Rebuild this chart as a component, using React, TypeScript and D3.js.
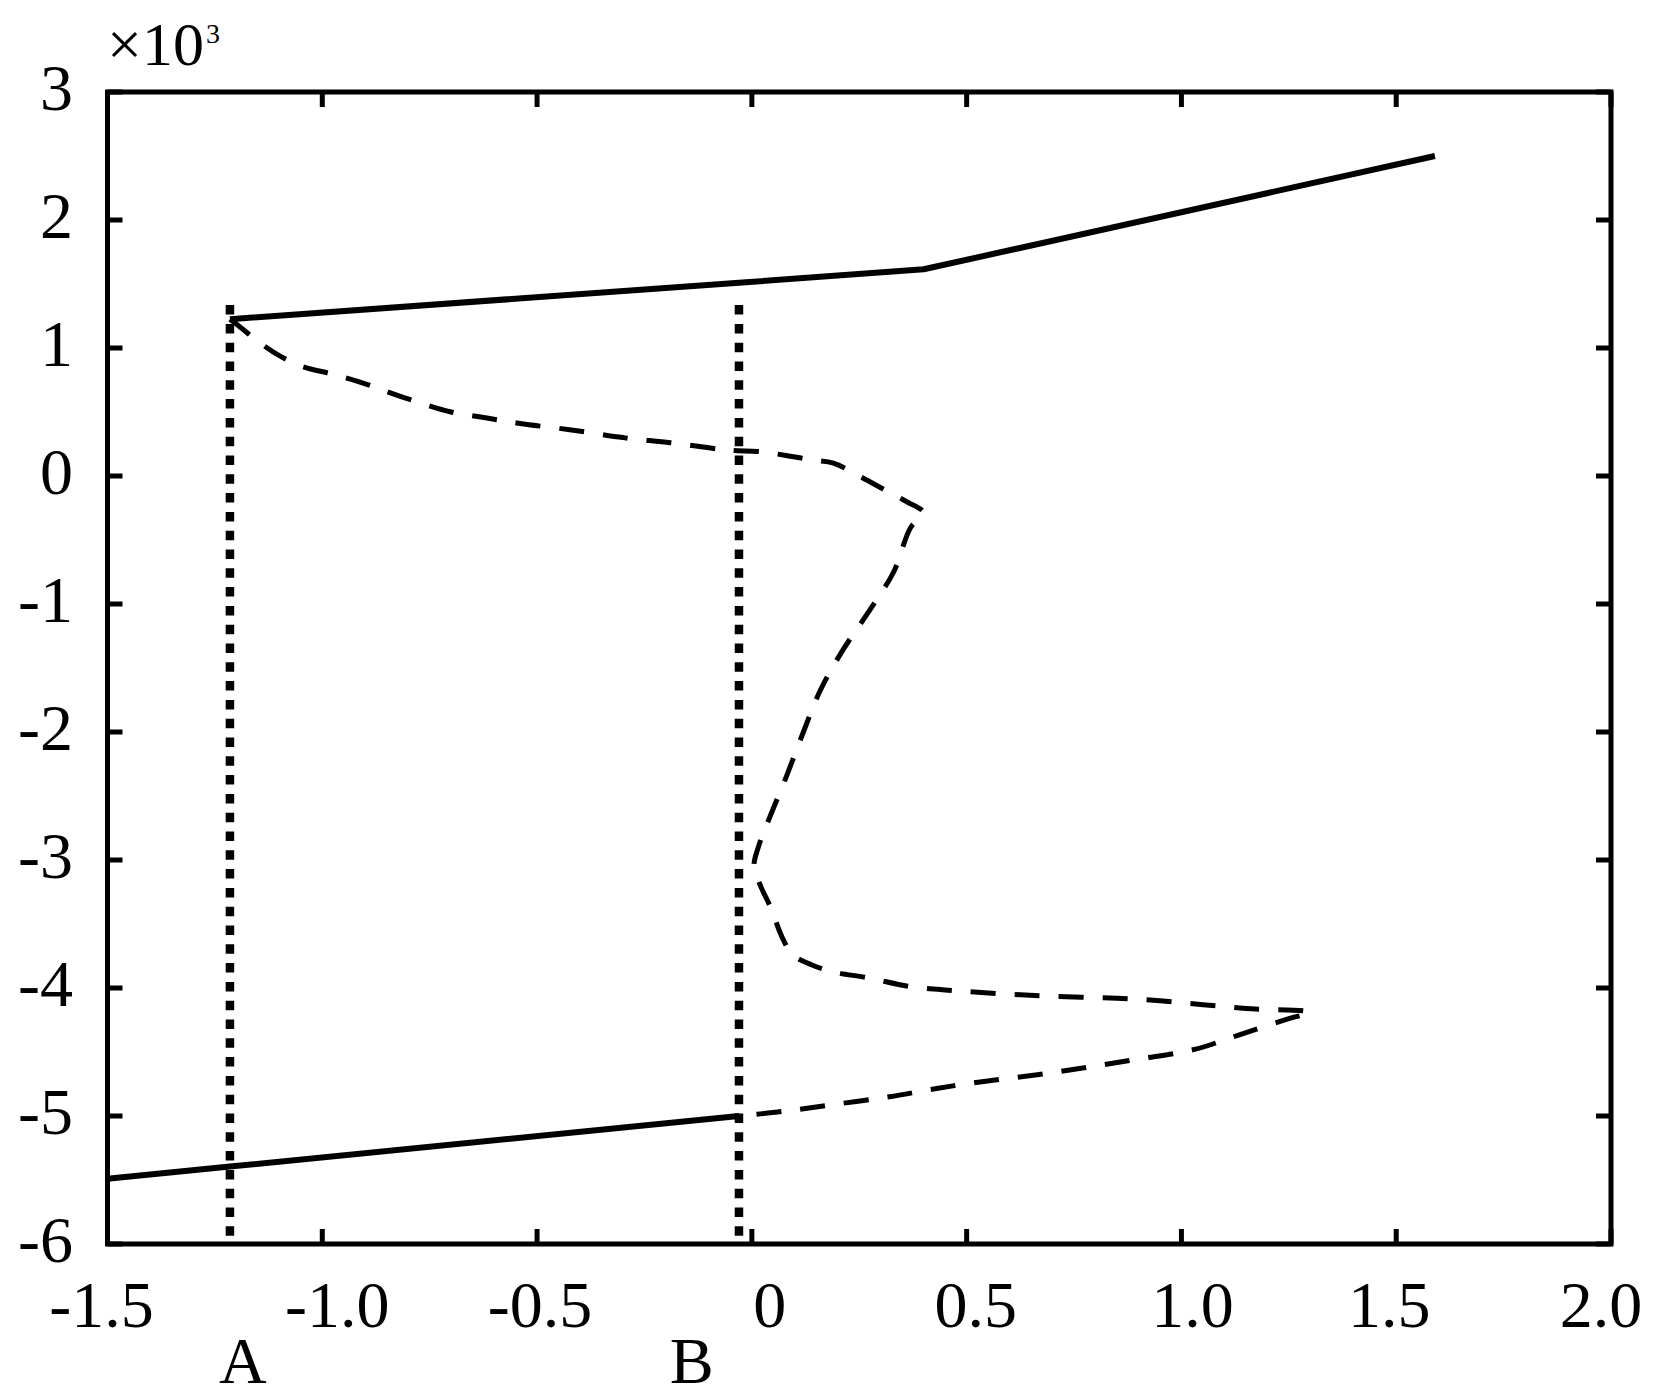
import React from "react";
import * as d3 from "d3";

// ---- data (x, y in units of 10^3) ----
const xTickValues = [-1.5, -1.0, -0.5, 0, 0.5, 1.0, 1.5, 2.0];
const xTickLabels = ["-1.5", "-1.0", "-0.5", "0", "0.5", "1.0", "1.5", "2.0"];
const yTickValues = [3, 2, 1, 0, -1, -2, -3, -4, -5, -6];
const yTickLabels = ["3", "2", "1", "0", "-1", "-2", "-3", "-4", "-5", "-6"];

// stable upper branch (solid)
const upperSolid: [number, number][] = [
  [-1.215, 1.225],
  [-0.03, 1.51],
  [0.40, 1.615],
  [1.59, 2.5],
];

// stable lower branch (solid)
const lowerSolid: [number, number][] = [
  [-1.5, -5.49],
  [-1.215, -5.395],
  [-0.03, -5.0],
];

// unstable branch (dashed)
const unstableDashed: [number, number][] = [
  [-1.215, 1.225], [-1.19, 1.16], [-1.145, 1.04], [-1.1, 0.94], [-1.05, 0.86],
  [-0.97, 0.79], [-0.9, 0.72], [-0.85, 0.66], [-0.78, 0.58], [-0.7, 0.5],
  [-0.62, 0.455], [-0.54, 0.41], [-0.42, 0.36], [-0.3, 0.3], [-0.19, 0.26],
  [-0.1, 0.22], [-0.05, 0.2], [0.02, 0.19], [0.08, 0.16], [0.14, 0.125],
  [0.19, 0.1], [0.25, 0.0], [0.31, -0.11], [0.36, -0.2], [0.4, -0.29],
  [0.37, -0.4], [0.33, -0.75], [0.27, -1.07], [0.21, -1.37], [0.16, -1.67],
  [0.12, -2.0], [0.08, -2.35], [0.04, -2.68], [0.015, -2.9], [0.005, -3.05],
  [0.02, -3.2], [0.045, -3.38], [0.07, -3.6], [0.095, -3.74], [0.14, -3.82],
  [0.19, -3.875], [0.27, -3.92], [0.37, -3.99], [0.47, -4.02], [0.58, -4.045],
  [0.7, -4.065], [0.85, -4.08], [0.95, -4.1], [1.05, -4.13], [1.15, -4.16],
  [1.3, -4.19], [1.25, -4.24], [1.14, -4.36], [1.03, -4.48], [0.9, -4.555],
  [0.78, -4.62], [0.66, -4.68], [0.54, -4.73], [0.43, -4.785], [0.32, -4.85],
  [0.19, -4.91], [0.07, -4.965], [-0.03, -5.0],
];

// vertical dotted markers
const markerX = [-1.215, -0.03];
const markerYRange = [1.335, -5.95];
const markerNames = ["A", "B"];
const markerLabelX = [-1.185, -0.14];

// small manual label nudges (px) as in the original figure
const xLabelNudge = [-6, 15, 3, 18, 9, 11, -7, -10];

export default function App() {
  const W = 1654;
  const H = 1397;
  const left = 107.5, right = 1611, top = 92, bottom = 1244;
  const x = d3.scaleLinear().domain([-1.5, 2.0]).range([left, right]);
  const y = d3.scaleLinear().domain([-6, 3]).range([bottom, top]);
  const line = d3
    .line<[number, number]>()
    .x((d) => x(d[0]))
    .y((d) => y(d[1]));
  const smooth = d3
    .line<[number, number]>()
    .x((d) => x(d[0]))
    .y((d) => y(d[1]))
    .curve(d3.curveCatmullRom.alpha(0.5));

  const font = '"Liberation Serif", "Times New Roman", serif';
  const tickLen = 15;
  const axisW = 5;

  return (
    <div style={{ position: "absolute", left: 0, top: 0 }}>
      <svg width={W} height={H} style={{ display: "block", background: "#fff" }}>
        <rect x={0} y={0} width={W} height={H} fill="#fff" />
        {/* curves */}
        <path d={smooth(unstableDashed) || ""} fill="none" stroke="#000" strokeWidth={5}
          strokeDasharray="25 19" strokeLinejoin="round" />
        <path d={line(upperSolid) || ""} fill="none" stroke="#000" strokeWidth={6} strokeLinejoin="round" />
        <path d={line(lowerSolid) || ""} fill="none" stroke="#000" strokeWidth={6} strokeLinejoin="round" />
        {/* dotted markers */}
        {markerX.map((mx, i) => (
          <line key={"m" + i} x1={x(mx)} x2={x(mx)} y1={y(markerYRange[0])} y2={y(markerYRange[1])}
            stroke="#000" strokeWidth={8.5} strokeDasharray="9.5 9.3" />
        ))}
        {/* axes box */}
        <rect x={left} y={top} width={right - left} height={bottom - top} fill="none"
          stroke="#000" strokeWidth={axisW} />
        {/* ticks */}
        {xTickValues.map((v, i) => (
          <g key={"xt" + i}>
            <line x1={x(v)} x2={x(v)} y1={bottom} y2={bottom - tickLen} stroke="#000" strokeWidth={axisW} />
            <line x1={x(v)} x2={x(v)} y1={top} y2={top + tickLen} stroke="#000" strokeWidth={axisW} />
            <text x={x(v) + xLabelNudge[i]} y={bottom + 83} textAnchor="middle" fontFamily={font}
              fontSize={66}>{xTickLabels[i]}</text>
          </g>
        ))}
        {yTickValues.map((v, i) => (
          <g key={"yt" + i}>
            <line x1={left} x2={left + tickLen} y1={y(v)} y2={y(v)} stroke="#000" strokeWidth={axisW} />
            <line x1={right} x2={right - tickLen} y1={y(v)} y2={y(v)} stroke="#000" strokeWidth={axisW} />
            <text x={73} y={y(v) + 18} textAnchor="end" fontFamily={font} fontSize={66}>
              {yTickLabels[i]}
            </text>
          </g>
        ))}
        {/* exponent */}
        <text x={107} y={65} fontFamily={font} fontSize={62}>
          ×10<tspan fontSize={28} dy={-22} dx={2}>3</tspan>
        </text>
        {/* A / B labels */}
        {markerNames.map((n, i) => (
          <text key={"lab" + i} x={x(markerLabelX[i])} y={bottom + 139} textAnchor="middle"
            fontFamily={font} fontSize={66}>{n}</text>
        ))}
      </svg>
    </div>
  );
}
